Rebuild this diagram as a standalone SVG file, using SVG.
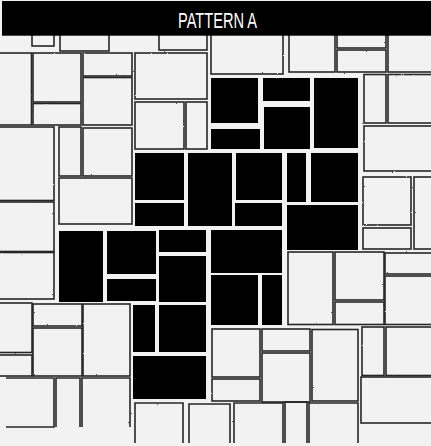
<svg xmlns="http://www.w3.org/2000/svg" width="431" height="446" viewBox="0 0 431 446">
<style>
.t{fill:none;stroke:#262626;stroke-width:1.6}
.b{fill:#000}
.h{fill:#000}
.ht{fill:#fff;font-family:"Liberation Sans",Arial,sans-serif;font-size:21.5px}
</style>
<defs>
<filter id="rough" x="-5%" y="-5%" width="110%" height="110%">
<feTurbulence type="fractalNoise" baseFrequency="0.9" numOctaves="2" seed="3" result="n"/>
<feDisplacementMap in="SourceGraphic" in2="n" scale="1.6" xChannelSelector="R" yChannelSelector="G"/>
</filter>
</defs>
<rect x="0" y="0" width="431" height="446" fill="#f1f2f1"/>
<g id="light-tiles" filter="url(#rough)">
<rect class="t" x="32" y="30" width="22" height="16"/>
<rect class="t" x="60" y="30" width="49" height="21"/>
<rect class="t" x="159" y="30" width="48" height="20"/>
<rect class="t" x="211" y="30" width="72" height="44"/>
<rect class="t" x="289" y="30" width="46" height="42"/>
<rect class="t" x="337" y="30" width="49" height="18"/>
<rect class="t" x="337" y="50" width="49" height="22"/>
<rect class="t" x="388" y="30" width="46" height="42"/>
<rect class="t" x="-3" y="53" width="34.5" height="72"/>
<rect class="t" x="33" y="53" width="48" height="49"/>
<rect class="t" x="33" y="103.5" width="48" height="21.5"/>
<rect class="t" x="83" y="53" width="49" height="23"/>
<rect class="t" x="83" y="77.5" width="49" height="47.5"/>
<rect class="t" x="135" y="53" width="72" height="46"/>
<rect class="t" x="135" y="102" width="49" height="47"/>
<rect class="t" x="186" y="102" width="21" height="47"/>
<rect class="t" x="-3" y="127" width="57" height="73.5"/>
<rect class="t" x="59" y="127" width="22" height="49"/>
<rect class="t" x="83" y="128" width="49" height="48"/>
<rect class="t" x="59" y="178" width="73" height="46"/>
<rect class="t" x="-3" y="202" width="57" height="49.5"/>
<rect class="t" x="-3" y="252.5" width="57" height="46.5"/>
<rect class="t" x="-3" y="303" width="35" height="49.5"/>
<rect class="t" x="-3" y="355" width="35" height="21"/>
<rect class="t" x="33" y="304" width="49" height="22"/>
<rect class="t" x="33" y="328" width="49" height="48"/>
<rect class="t" x="83" y="304" width="47" height="72"/>
<path class="t" d="M6 378H54V427H6"/>
<path class="t" d="M56 427V378H80V427"/>
<path class="t" d="M82 427V378H130V427"/>
<rect class="t" x="364" y="74.5" width="22" height="48.5"/>
<rect class="t" x="388" y="74.5" width="46" height="48.5"/>
<rect class="t" x="364" y="126" width="70" height="45"/>
<rect class="t" x="363" y="177" width="48" height="48"/>
<rect class="t" x="363" y="228" width="48" height="21"/>
<rect class="t" x="414" y="177" width="20" height="72"/>
<rect class="t" x="288" y="252" width="45" height="72.5"/>
<rect class="t" x="335" y="252" width="49" height="48"/>
<rect class="t" x="335" y="302" width="49" height="22.5"/>
<rect class="t" x="385" y="253" width="49" height="21"/>
<rect class="t" x="385" y="276" width="49" height="48.5"/>
<rect class="t" x="212" y="329" width="48" height="48"/>
<rect class="t" x="212" y="379" width="48" height="22"/>
<rect class="t" x="262" y="329" width="48" height="22"/>
<rect class="t" x="262" y="353" width="48" height="49"/>
<rect class="t" x="312" y="329.5" width="46" height="71.5"/>
<rect class="t" x="362" y="327" width="22" height="48.5"/>
<rect class="t" x="386" y="327" width="48" height="48.5"/>
<rect class="t" x="361" y="377" width="73" height="46"/>
<path class="t" d="M135 443V403H183V443"/>
<path class="t" d="M189 443V404H230V443"/>
<path class="t" d="M234 443V403H283V443"/>
<path class="t" d="M285 443V402H307V443"/>
<path class="t" d="M309 443V403H358V443"/>
</g>
<g id="black-tiles">
<rect class="b" x="211" y="78" width="47" height="45"/>
<rect class="b" x="263" y="78" width="47" height="23"/>
<rect class="b" x="211" y="129" width="49" height="20"/>
<rect class="b" x="264" y="107" width="46" height="42"/>
<rect class="b" x="314" y="78" width="44" height="70"/>
<rect class="b" x="135" y="153" width="49" height="47"/>
<rect class="b" x="135" y="203" width="49" height="23"/>
<rect class="b" x="188" y="153" width="44" height="73"/>
<rect class="b" x="236" y="153" width="46" height="47"/>
<rect class="b" x="235" y="203" width="47" height="23"/>
<rect class="b" x="287" y="153" width="19" height="49"/>
<rect class="b" x="311" y="153" width="47" height="49"/>
<rect class="b" x="287" y="205" width="71" height="45"/>
<rect class="b" x="59" y="231" width="44" height="71"/>
<rect class="b" x="107" y="231" width="49" height="43"/>
<rect class="b" x="107" y="279" width="49" height="22"/>
<rect class="b" x="159" y="230" width="47" height="22"/>
<rect class="b" x="159" y="256" width="47" height="46"/>
<rect class="b" x="211" y="230" width="71" height="43"/>
<rect class="b" x="211" y="275" width="47" height="50"/>
<rect class="b" x="262" y="275" width="20" height="50"/>
<rect class="b" x="133" y="305" width="22" height="47"/>
<rect class="b" x="159" y="305" width="47" height="47"/>
<rect class="b" x="133" y="356" width="73" height="43"/>
</g>
<g id="header">
<rect class="h" x="2" y="1" width="429" height="34.7"/>
<text class="ht" x="178" y="27.5" textLength="79" lengthAdjust="spacingAndGlyphs">PATTERN A</text>
</g>
</svg>
